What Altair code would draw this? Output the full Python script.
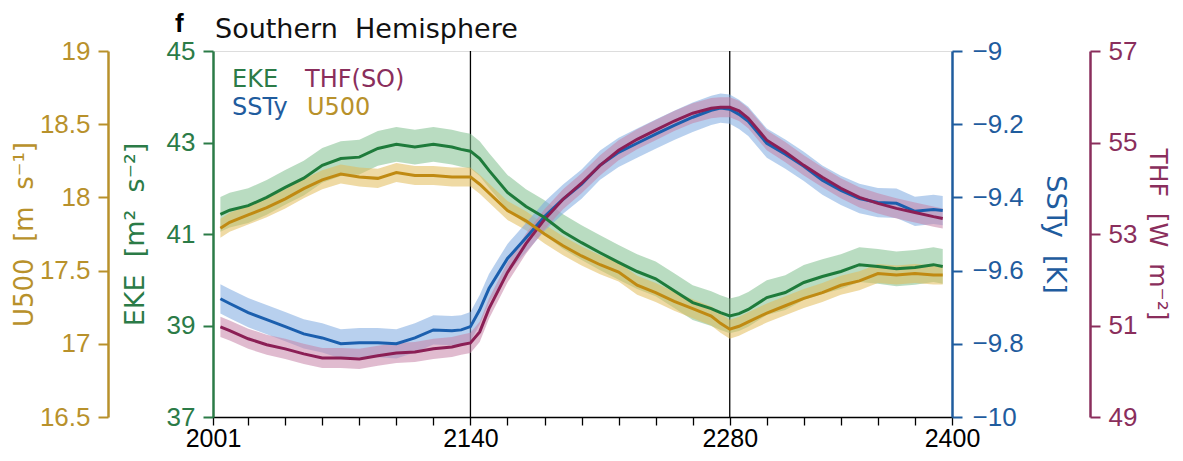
import altair as alt
import pandas as pd

# ---------------- data ----------------
years = [2005, 2010, 2020, 2030, 2040, 2050, 2060, 2070, 2080, 2090, 2100, 2110, 2120,
         2130, 2135, 2140, 2145, 2150, 2160, 2170, 2180, 2190, 2200, 2210, 2220, 2230,
         2240, 2250, 2260, 2270, 2275, 2280, 2285, 2290, 2300, 2310, 2320, 2330, 2340,
         2350, 2360, 2370, 2380, 2390, 2395]

eke = [41.43, 41.52, 41.62, 41.80, 42.02, 42.22, 42.50, 42.65, 42.68, 42.87, 42.96, 42.90,
       42.96, 42.90, 42.85, 42.81, 42.65, 42.39, 41.91, 41.60, 41.36, 41.05, 40.81, 40.59,
       40.38, 40.18, 40.02, 39.76, 39.50, 39.37, 39.28, 39.21, 39.26, 39.35, 39.61, 39.72,
       39.94, 40.07, 40.18, 40.33, 40.29, 40.24, 40.27, 40.33, 40.29]

u500 = [17.79, 17.83, 17.88, 17.93, 17.99, 18.06, 18.12, 18.16, 18.14, 18.13, 18.17, 18.15,
        18.15, 18.14, 18.14, 18.14, 18.09, 18.03, 17.91, 17.84, 17.75, 17.67, 17.60, 17.54,
        17.49, 17.40, 17.35, 17.29, 17.24, 17.19, 17.14, 17.10, 17.12, 17.15, 17.21, 17.26,
        17.31, 17.35, 17.40, 17.43, 17.48, 17.47, 17.48, 17.47, 17.47]

ssty = [-9.677, -9.690, -9.715, -9.734, -9.753, -9.773, -9.784, -9.800, -9.797, -9.797,
        -9.800, -9.784, -9.762, -9.764, -9.762, -9.753, -9.707, -9.649, -9.567, -9.510,
        -9.452, -9.405, -9.364, -9.312, -9.277, -9.252, -9.227, -9.203, -9.181, -9.162,
        -9.156, -9.159, -9.173, -9.192, -9.252, -9.282, -9.315, -9.353, -9.381, -9.403,
        -9.414, -9.416, -9.438, -9.433, -9.436]

thf = [50.97, 50.89, 50.71, 50.58, 50.49, 50.38, 50.29, 50.29, 50.27, 50.34, 50.40, 50.42,
       50.49, 50.53, 50.58, 50.62, 50.86, 51.37, 52.16, 52.79, 53.32, 53.76, 54.11, 54.50,
       54.83, 55.07, 55.27, 55.47, 55.64, 55.75, 55.77, 55.77, 55.69, 55.53, 55.05, 54.79,
       54.50, 54.24, 54.00, 53.80, 53.67, 53.56, 53.47, 53.38, 53.34]

# half-width of the shaded spread around each curve
spread = {"EKE": 0.38, "U500": 0.065, "SSTy": 0.04, "THF": 0.22}

divider_years = [2140, 2280]
x_ticks = [2001] + list(range(2020, 2401, 20))
x_labels = [2001, 2140, 2280, 2400]

eke_ticks = [37, 39, 41, 43, 45]
u500_ticks = [16.5, 17, 17.5, 18, 18.5, 19]
ssty_ticks = [-10, -9.8, -9.6, -9.4, -9.2, -9]
thf_ticks = [49, 51, 53, 55, 57]

NB = "\u00a0\u00a0"  # visible double space inside titles
eke_title = f"EKE{NB}[m²{NB}s⁻²]"
u500_title = f"U500{NB}[m{NB}s⁻¹]"
ssty_title = f"SSTy{NB}[K]"
thf_title = f"THF{NB}[W{NB}m⁻²]"

# ---------------- table ----------------
df = pd.DataFrame({"year": years, "EKE": eke, "U500": u500, "SSTy": ssty, "THF": thf})
for k, s in spread.items():
    df[k + "_lo"] = df[k] - s
    df[k + "_hi"] = df[k] + s

GREEN_T, GREEN_L, GREEN_B = "#2b7b47", "#1e7b3b", "#7fbf8e"
GOLD_T, GOLD_L, GOLD_B = "#b8912b", "#c08a12", "#e2bc5a"
BLUE_T, BLUE_L, BLUE_B = "#1f5c9e", "#1b5fae", "#7eaae0"
MAR_T, MAR_L, MAR_B = "#8a2e5c", "#8b1f55", "#c784a8"

LABEL_FONT = "Liberation Sans"
TITLE_FONT = "DejaVu Sans"

label_expr = " || ".join(f"datum.value == {v}" for v in x_labels)
x_enc = alt.X(
    "year:Q",
    scale=alt.Scale(domain=[2001, 2400], nice=False, zero=False),
    axis=alt.Axis(
        values=x_ticks, format="d", labelExpr=f"({label_expr}) ? datum.label : ''",
        title=None, grid=False, domainColor="black", domainWidth=1.5,
        tickColor="black", tickSize=8, tickWidth=1.3, labelColor="black",
        labelFont=LABEL_FONT, labelFontSize=25, labelPadding=1,
        labelOverlap=False, labelFlush=False,
    ),
)


def yaxis(orient, offset, color, values, title, fmt, label_pad, title_pad, tsize=27):
    return alt.Axis(
        orient=orient, offset=offset, values=values, format=fmt, title=title,
        grid=False, domainColor=color, domainWidth=2.5, tickColor=color,
        tickWidth=2, tickSize=10, labelColor=color, labelFont=LABEL_FONT,
        labelFontSize=26, labelPadding=label_pad, labelFlush=False,
        labelOverlap=False, titleColor=color, titleFont=TITLE_FONT,
        titleFontSize=tsize, titleFontWeight="normal", titlePadding=title_pad,
    )


series = [
    # key, domain, band color, line color, axis
    ("EKE", [37, 45], GREEN_B, GREEN_L,
     yaxis("left", 0, GREEN_T, eke_ticks, eke_title, "d", 8, 17)),
    ("U500", [16.5, 19], GOLD_B, GOLD_L,
     yaxis("left", 105, GOLD_T, u500_ticks, u500_title, "~g", 8, 2, 26)),
    ("SSTy", [-10, -9], BLUE_B, BLUE_L,
     yaxis("right", 0, BLUE_T, ssty_ticks, ssty_title, "~g", 10, 17)),
    ("THF", [49, 57], MAR_B, MAR_L,
     yaxis("right", 138, MAR_T, thf_ticks, thf_title, "d", 8, 8, 25)),
]

base = alt.Chart(df)

rules = alt.Chart(pd.DataFrame({"year": divider_years})).mark_rule(
    color="black", strokeWidth=1.3
).encode(x=x_enc)

bands = []
lines = []
for key, dom, bcol, lcol, ax in series:
    sc = alt.Scale(domain=dom, nice=False, zero=False)
    bands.append(
        base.mark_area(color=bcol, opacity=0.55).encode(
            x=x_enc,
            y=alt.Y(f"{key}_lo:Q", scale=sc, axis=None),
            y2=f"{key}_hi:Q",
        )
    )
    lines.append(
        base.mark_line(color=lcol, strokeWidth=3).encode(
            x=x_enc, y=alt.Y(f"{key}:Q", scale=sc, axis=ax)
        )
    )


def label(text, x, y, color, size, font=TITLE_FONT, weight="normal"):
    return alt.Chart(pd.DataFrame({"t": [text]})).mark_text(
        align="left", baseline="alphabetic", font=font, fontSize=size,
        fontWeight=weight, color=color,
    ).encode(text="t:N", x=alt.value(x), y=alt.value(y))


texts = [
    label("f", -38, -19, "black", 26, font=LABEL_FONT, weight="bold"),
    label(f"Southern{NB}Hemisphere", 2, -13, "#111111", 27),
    label("EKE", 19, 36, GREEN_T, 24),
    label("THF(SO)", 92, 36, MAR_T, 24),
    label("SSTy", 19, 64, BLUE_T, 24),
    label("U500", 94, 64, GOLD_T, 24),
]

chart = alt.layer(
    rules, *bands, lines[2], lines[3], lines[0], lines[1], *texts
).resolve_scale(y="independent").properties(
    width=739,
    height=366,
    autosize=alt.AutoSizeParams(type="none"),
    padding={"left": 205, "top": 43, "right": 223, "bottom": 36},
).configure_view(stroke="black", strokeWidth=1.5).configure(background="white")

chart.save("out.html", embed_options={"renderer": "svg", "actions": False})
